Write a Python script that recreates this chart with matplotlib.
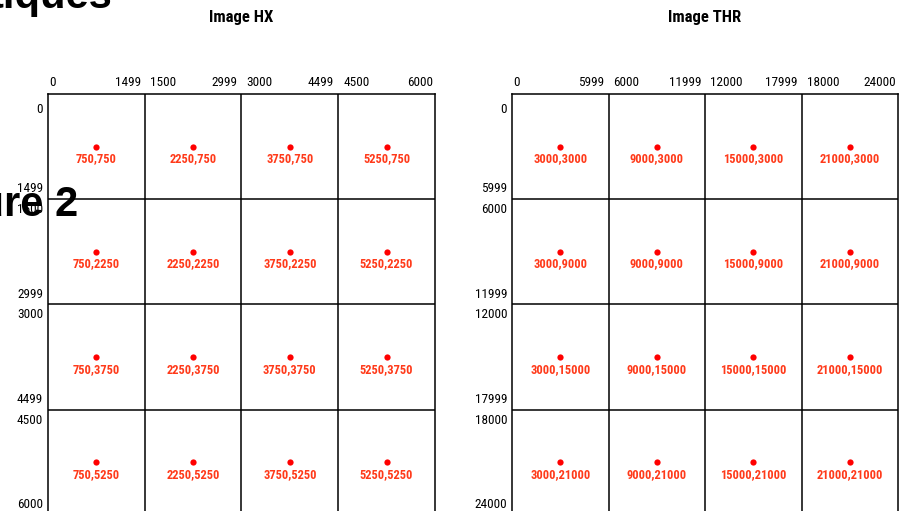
import matplotlib
matplotlib.use("Agg")
import matplotlib.pyplot as plt

W, H = 907, 511
DPI = 100

NARROW_FAM = ["Roboto Condensed", "DejaVu Sans"]
SANS_FAM = ["Liberation Sans", "DejaVu Sans"]

# ---- data ----
hx_bounds = [0, 1500, 3000, 4500, 6000]
hx_top_labels = ["0", "1499", "1500", "2999", "3000", "4499", "4500", "6000"]
hx_centers = [750, 2250, 3750, 5250]

thr_bounds = [0, 6000, 12000, 18000, 24000]
thr_top_labels = ["0", "5999", "6000", "11999", "12000", "17999", "18000", "24000"]
thr_centers = [3000, 9000, 15000, 21000]

titles = ["Image HX", "Image THR"]
big_texts = ["tiques", "Figure 2"]

DOT_COLOR = "#ff0000"
LABEL_COLOR = "#ff3a1a"

fig = plt.figure(figsize=(W / DPI, H / DPI), dpi=DPI)


def px_axes(x0, x1, y0, y1):
    return fig.add_axes([x0 / W, 1 - y1 / H, (x1 - x0) / W, (y1 - y0) / H])


def draw_grid(ax, bounds, labels, centers, title):
    lo, hi = bounds[0], bounds[-1]
    ax.set_xlim(lo, hi)
    ax.set_ylim(hi, lo)
    ax.set_xticks([])
    ax.set_yticks([])
    for s in ax.spines.values():
        s.set_linewidth(1.1)
        s.set_color("black")
    for b in bounds[1:-1]:
        ax.axvline(b, color="black", lw=1.1)
        ax.axhline(b, color="black", lw=1.1)
    # tick labels along top and left
    for i, lab in enumerate(labels):
        idx = (i + 1) // 2
        pos = bounds[idx]
        start = (i % 2 == 0)
        if i == 0:
            dx, ha = 1, "left"
        elif i == len(labels) - 1:
            dx, ha = -2, "right"
        elif start:
            dx, ha = 5, "left"
        else:
            dx, ha = -4, "right"
        ax.annotate(lab, xy=(pos, lo), xycoords="data", xytext=(dx, 8),
                    textcoords="offset pixels", ha=ha, va="baseline",
                    fontsize=9.5, family=NARROW_FAM, annotation_clip=False)
        if i == 0:
            dy, va = -9, "top"
        elif start:
            dy, va = -4, "top"
        else:
            dy, va = 4, "bottom"
        ax.annotate(lab, xy=(lo, pos), xycoords="data", xytext=(-5, dy),
                    textcoords="offset pixels", ha="right", va=va,
                    fontsize=9.5, family=NARROW_FAM, annotation_clip=False)
    # points and labels
    for yv in centers:
        for xv in centers:
            ax.plot([xv], [yv], "o", color=DOT_COLOR, ms=4.5, mec="none",
                    clip_on=False)
            ax.annotate(f"{xv},{yv}", xy=(xv, yv), xytext=(0, -12),
                        textcoords="offset pixels", ha="center", va="center",
                        fontsize=9, fontweight="bold", color=LABEL_COLOR,
                        family=NARROW_FAM)
    ax.annotate(title, xy=(0.5, 1), xycoords="axes fraction", xytext=(0, 72),
                textcoords="offset pixels", ha="center", va="baseline",
                fontsize=12, fontweight="bold", family=NARROW_FAM,
                annotation_clip=False)


ax1 = px_axes(48, 435, 94, 515)
ax2 = px_axes(512, 898, 94, 515)
draw_grid(ax1, hx_bounds, hx_top_labels, hx_centers, titles[0])
draw_grid(ax2, thr_bounds, thr_top_labels, thr_centers, titles[1])

fig.text(112 / W, 1 - 8 / H, big_texts[0], ha="right", va="baseline",
         fontsize=30, fontweight="bold", family=SANS_FAM)
fig.text(78 / W, 1 - 216 / H, big_texts[1], ha="right", va="baseline",
         fontsize=30, fontweight="bold", family=SANS_FAM, zorder=10)

fig.savefig("out.png", dpi=DPI)
